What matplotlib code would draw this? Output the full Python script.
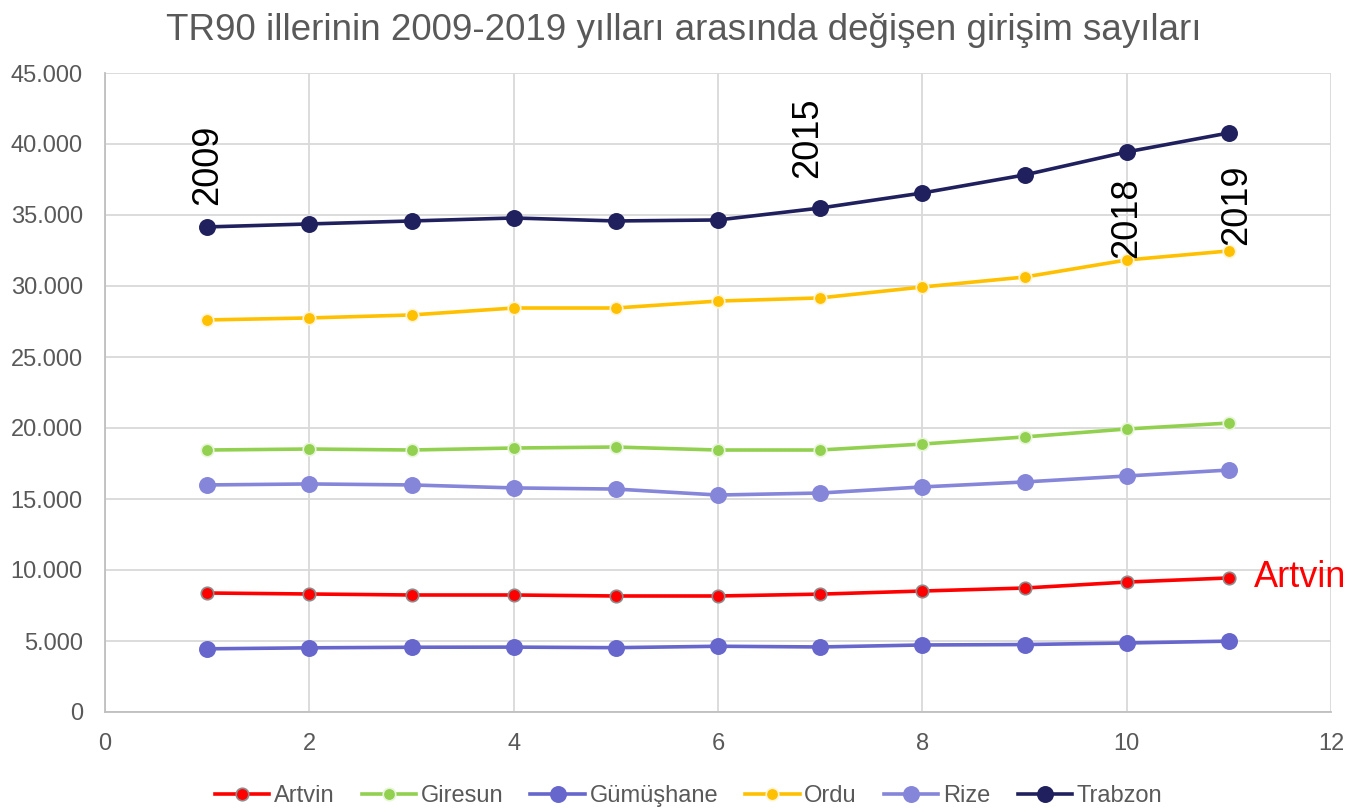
import matplotlib
matplotlib.use("Agg")
import matplotlib.pyplot as plt
from matplotlib.ticker import FuncFormatter, MultipleLocator

x = [1, 2, 3, 4, 5, 6, 7, 8, 9, 10, 11]
artvin = [8380, 8310, 8240, 8240, 8170, 8170, 8300, 8520, 8730, 9150, 9440]
giresun = [18450, 18520, 18450, 18590, 18660, 18450, 18450, 18870, 19370, 19930, 20350]
gumushane = [4450, 4520, 4560, 4570, 4530, 4630, 4580, 4720, 4750, 4860, 4990]
ordu = [27610, 27750, 27960, 28450, 28450, 28940, 29160, 29930, 30630, 31830, 32470]
rize = [15990, 16060, 15990, 15780, 15700, 15280, 15420, 15850, 16200, 16620, 17040]
trabzon = [34160, 34370, 34580, 34790, 34580, 34650, 35490, 36550, 37820, 39440, 40780]

series = [
    ("Artvin", artvin, "#FF0000", 9, "#8C8C8C"),
    ("Giresun", giresun, "#92D050", 9, "#E8F5DA"),
    ("Gümüşhane", gumushane, "#6666CC", 11, "#6666CC"),
    ("Ordu", ordu, "#FFC000", 9, "#FFF5D6"),
    ("Rize", rize, "#8585D9", 11, "#8585D9"),
    ("Trabzon", trabzon, "#20205E", 11, "#20205E"),
]

year_labels = ["2009", "2015", "2018", "2019"]
year_pos = [(1.0, 35700), (6.88, 37600), (10.0, 31970), (11.08, 32890)]

TXT = "#595959"
plt.rcParams['font.family'] = ['Liberation Sans', 'DejaVu Sans']

fig = plt.figure(figsize=(13.53, 8.10), dpi=100)
ax = fig.add_axes([105/1353, 1-712/810, (1331-105)/1353, (712-73)/810])

for name, vals, col, ms, ec in series:
    ax.plot(x, vals, color=col, lw=2.6, marker='o', ms=ms, mfc=col,
            mec=ec, mew=1.2, label=name, zorder=3)

ax.set_xlim(0, 12)
ax.set_ylim(0, 45000)
ax.xaxis.set_major_locator(MultipleLocator(2))
ax.yaxis.set_major_locator(MultipleLocator(5000))
ax.yaxis.set_major_formatter(FuncFormatter(lambda v, p: f"{int(v):,}".replace(",", ".")))
ax.grid(True, color="#D9D9D9", lw=1.3, zorder=0)
for s in ["top", "right"]:
    ax.spines[s].set_visible(False)
for s in ["left", "bottom"]:
    ax.spines[s].set_color("#BFBFBF")
    ax.spines[s].set_linewidth(1.3)
ax.tick_params(length=0, labelsize=17, colors=TXT)
ax.tick_params(axis='y', pad=16)
ax.tick_params(axis='x', pad=15)

for t, (px, py) in zip(year_labels, year_pos):
    ax.text(px, py, t, rotation=90, ha='center', va='bottom', fontsize=26,
            color='black', zorder=5)
ax.text(11.25, artvin[-1], "Artvin", color="#FF0000", fontsize=26,
        ha='left', va='center', zorder=5, clip_on=False)

fig.text((170+1197)/2/1353, 1-30/810,
         "TR90 illerinin 2009-2019 yılları arasında değişen girişim sayıları",
         ha='center', va='center', fontsize=26.5, color=TXT)

leg = ax.legend(loc='center', bbox_to_anchor=(0.5 + 12/1353, (810-796)/810),
                bbox_transform=fig.transFigure, ncol=6, frameon=False,
                handlelength=2.3, columnspacing=1.15, handletextpad=0.2,
                prop={'size': 17})
for t in leg.get_texts():
    t.set_color(TXT)

fig.savefig("out.png", dpi=100)
